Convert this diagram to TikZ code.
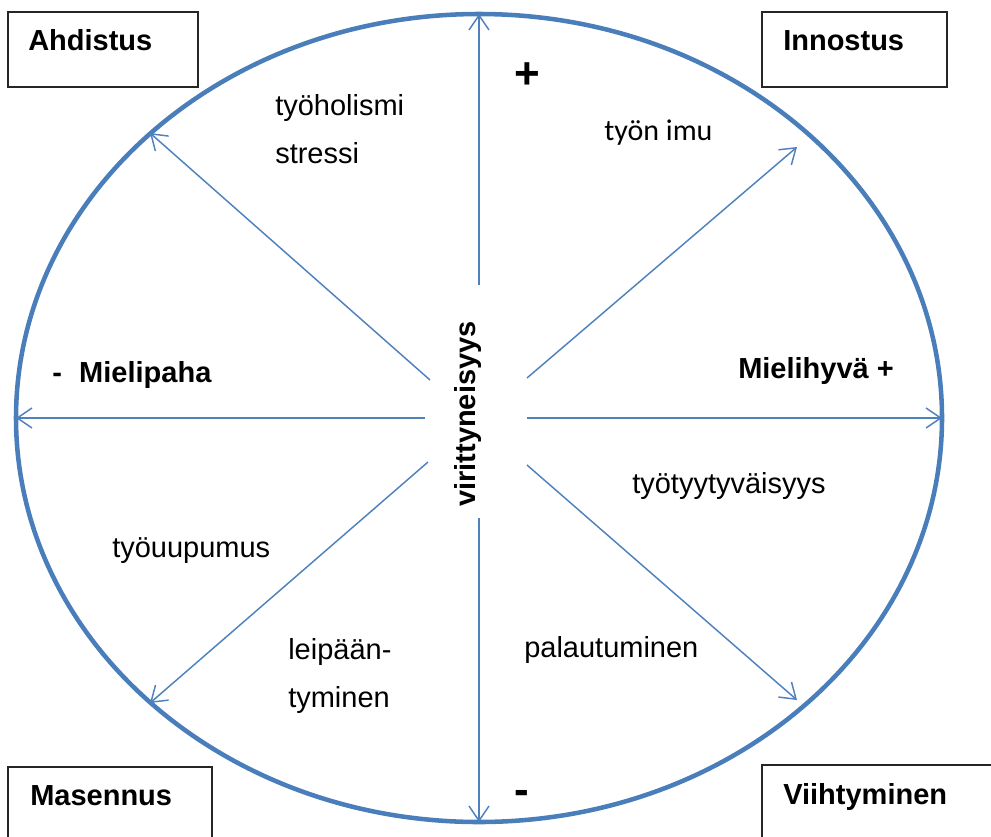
\documentclass[tikz,border=0pt]{standalone}
\usepackage{fontspec}
\setmainfont{Liberation Sans}
\newfontfamily\calib{Carlito}
\usetikzlibrary{arrows.meta}
\definecolor{ringblue}{RGB}{74,126,187}
\definecolor{arrowblue}{RGB}{79,129,189}
\begin{document}
\begin{tikzpicture}[x=0.75pt,y=-0.75pt,
  lbl/.style={inner sep=0, anchor=base west, font=\fontsize{21.75}{26}\selectfont},
  blbl/.style={inner sep=0, anchor=base west, font=\fontsize{21.75}{26}\selectfont\bfseries},
  sign/.style={inner sep=0, anchor=base, font=\fontsize{33}{38}\selectfont\bfseries},
  cornerbox/.style={draw=black!85, line width=0.8pt},
  ray/.style={draw=arrowblue, line width=1.1pt, -{Straight Barb[length=11pt,width=15pt]}},
]
\useasboundingbox (0,0) rectangle (991,836);
\clip (0,0) rectangle (991,836);

% outer ellipse
\draw[ringblue, line width=3.4pt] (479,418) ellipse [x radius=347.25pt, y radius=303pt];

% corner boxes
\draw[cornerbox] (8,12) rectangle (198,87);
\node[blbl] (ahd) at (28,50) {Ahdistus};
\draw[cornerbox] (762,12) rectangle (947,87);
\node[blbl] (inn) at (783,50) {Innostus};
\draw[cornerbox] (8,767) rectangle (212,850);
\node[blbl] (mas) at (30,805) {Masennus};
\draw[cornerbox] (762,765) rectangle (1000,850);
\node[blbl] (vii) at (783,804) {Viihtyminen};

% ray endpoints
\coordinate (nS) at (479,285);
\coordinate (nE) at (479,14);
\coordinate (sS) at (479,518);
\coordinate (sE) at (479,822);
\coordinate (wS) at (425,418);
\coordinate (wE) at (16,418);
\coordinate (eS) at (527,418);
\coordinate (eE) at (942,418);
\coordinate (nwS) at (430,380);
\coordinate (nwE) at (150,133);
\coordinate (neS) at (527,378);
\coordinate (neE) at (797,147);
\coordinate (swS) at (428,462);
\coordinate (swE) at (150,703);
\coordinate (seS) at (527,465);
\coordinate (seE) at (797,700);

\draw[ray] (nS) -- (nE);
\draw[ray] (sS) -- (sE);
\draw[ray] (wS) -- (wE);
\draw[ray] (eS) -- (eE);
\draw[ray] (nwS) -- (nwE);
\draw[ray] (neS) -- (neE);
\draw[ray] (swS) -- (swE);
\draw[ray] (seS) -- (seE);

% centre label
\node[inner sep=0, anchor=base, rotate=90, font=\fontsize{21.75}{26}\selectfont\bfseries] (vir) at (475,414) {virittyneisyys};

% axis labels
\node[blbl] (mpaha) at (52,382) {-\hspace{13pt}Mielipaha};
\node[blbl] (mhyva) at (738,378) {Mielihyvä +};
\node[sign] (plus) at (527,88) {+};
\node[sign] (minus) at (522,804) {-};

% region labels
\node[lbl] (tyoh) at (275,115) {työholismi};
\node[lbl] (stre) at (275,163) {stressi};
\node[inner sep=0, anchor=base west, font=\fontsize{22.5}{26}\selectfont\calib] (imu) at (604,140) {työn imu};
\node[lbl] (tyyt) at (632,493) {työtyytyväisyys};
\node[lbl] (uupu) at (112,557) {työuupumus};
\node[lbl] (leip) at (288,659) {leipään-};
\node[lbl] (tymi) at (288,707) {tyminen};
\node[lbl] (pala) at (524,657) {palautuminen};
\end{tikzpicture}
\end{document}
